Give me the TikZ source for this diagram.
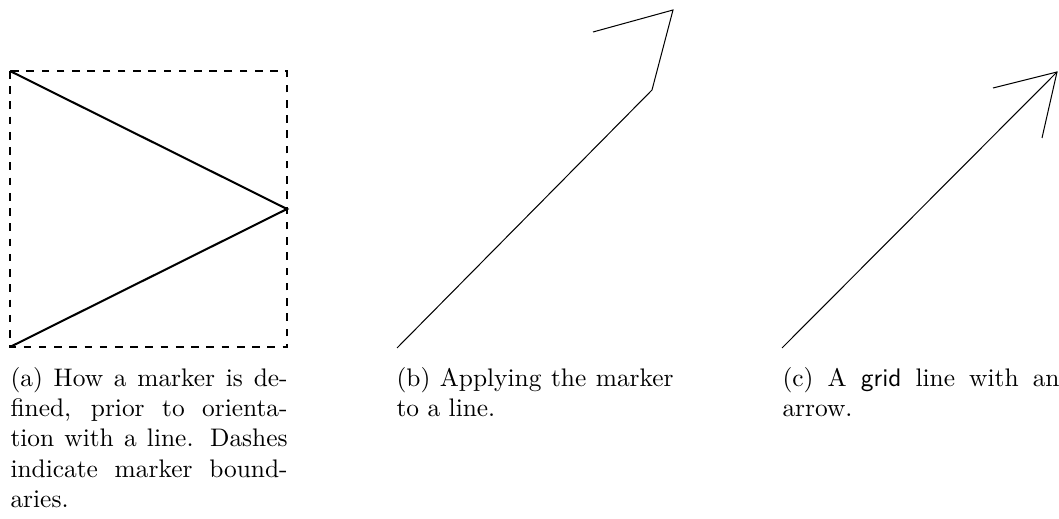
\documentclass[tikz,border=0pt]{standalone}
\newcommand{\capline}[1]{{\spaceskip=0pt\xspaceskip=0pt\makebox[109.1pt][s]{#1}}}
\begin{document}
\begin{tikzpicture}[x=0.3937pt,y=-0.3937pt,
  markerline/.style={line width=0.8pt},
  boundary/.style={line width=0.8pt,dashed},
  thinline/.style={line width=0.4pt},
  captext/.style={anchor=base west,inner sep=0pt,text width=109.1pt,align=left,font=\normalsize}]
\useasboundingbox (0,0) rectangle (1059,519);
% panel (a)
\coordinate (a1) at (10,71);
\coordinate (a2) at (287,209);
\coordinate (a3) at (10,347);
\coordinate (b2) at (287,347);
\draw[boundary] (a1) rectangle (b2);
\draw[markerline] (a1) -- (a2) -- (a3);
% panel (b)
\coordinate (p1) at (397,348);
\coordinate (p2) at (652,90);
\coordinate (p3) at (673,10);
\coordinate (p4) at (593,32);
\draw[thinline] (p1) -- (p2) -- (p3) -- (p4);
% panel (c)
\coordinate (c1) at (782,348);
\coordinate (c2) at (1057,72);
\coordinate (c3) at (993,88);
\coordinate (c4) at (1042,138);
\draw[thinline] (c1) -- (c2);
\draw[thinline] (c3) -- (c2) -- (c4);
% captions
\node[captext] (capa) at (10,386) {\capline{(a) How a marker is de-}\\
\capline{fined, prior to orienta-}\\
\capline{tion with a line. Dashes}\\
\capline{indicate marker bound-}\\
aries.};
\node[captext] (capb) at (396,386) {\capline{(b) Applying the marker}\\
to a line.};
\node[captext] (capc) at (782,386) {\capline{(c) A \textsf{grid} line with an}\\
arrow.};
\end{tikzpicture}
\end{document}
